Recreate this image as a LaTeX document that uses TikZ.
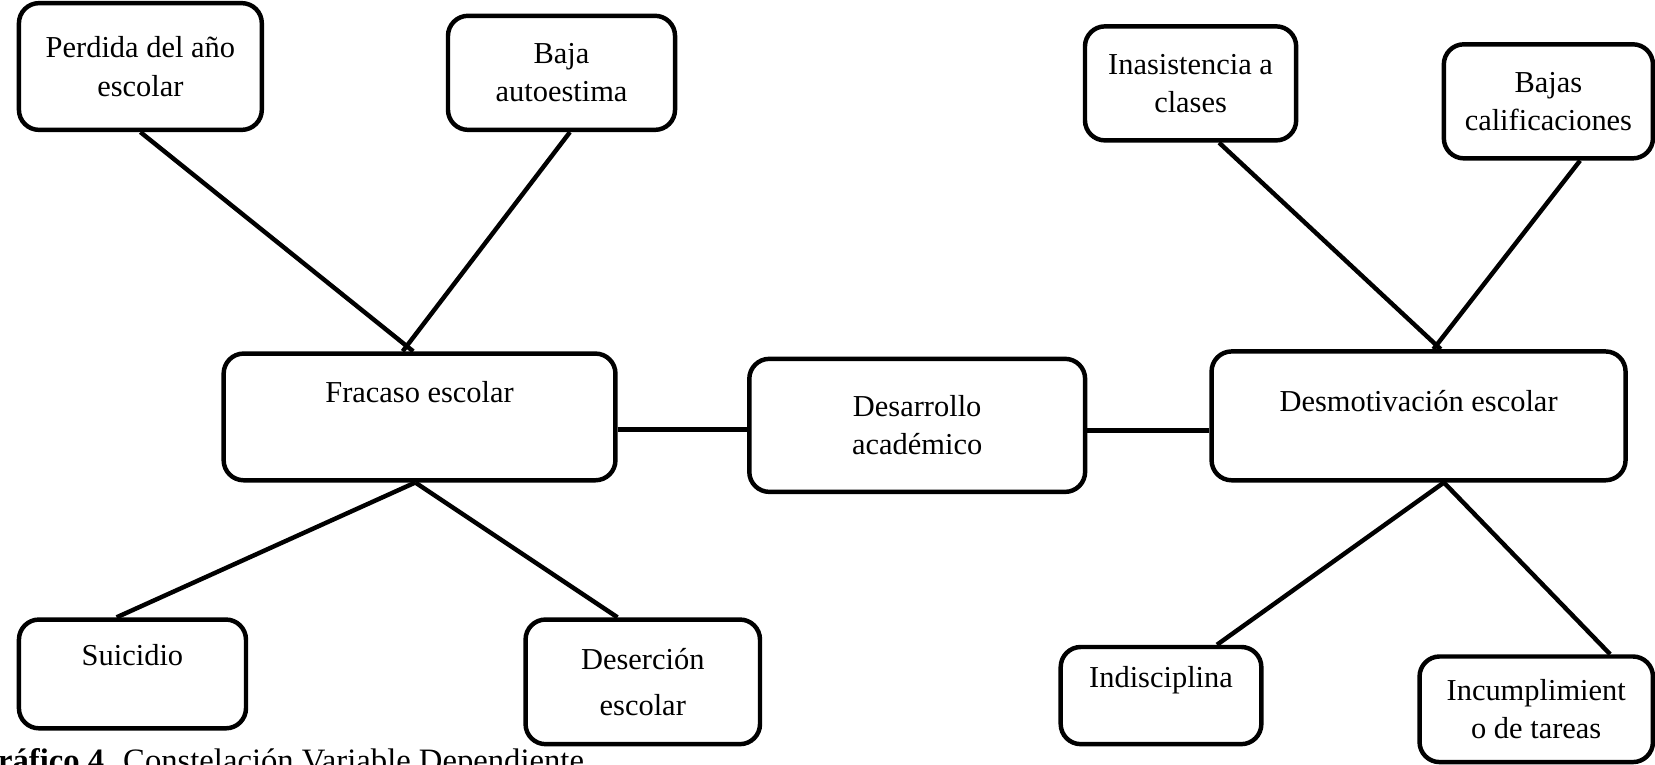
\documentclass[tikz,border=0pt]{standalone}
\usepackage{fontspec}
\setmainfont{Liberation Serif}
\usetikzlibrary{positioning,calc}

\begin{document}
\begin{tikzpicture}[x=0.01cm,y=-0.01cm,line width=1.2pt,
			box/.style={draw,rounded corners=0.19cm,align=center,inner sep=0pt,
				font=\fontsize{8.2}{10.3}\selectfont}]
			\useasboundingbox (0,0) rectangle (1568,724);
			\clip (0,0) rectangle (1568,724);
			\node[box,minimum width=3.18cm,minimum height=1.26cm] (desarrollo) at (869,403) {Desarrollo\\académico};
			\node[box,minimum width=3.71cm,minimum height=1.20cm] (fracaso) at (397.5,395) {Fracaso escolar\\[3pt]\mbox{}};
			\node[box,minimum width=3.92cm,minimum height=1.22cm] (desmot) at (1344,394) {Desmotivación escolar\\[-2pt]\mbox{}};
			\node[box,minimum width=2.30cm,minimum height=1.20cm] (perdida) at (133,63) {Perdida del año\\escolar};
			\node[box,minimum width=2.15cm,minimum height=1.08cm] (autoest) at (532,69) {Baja\\autoestima};
			\node[box,minimum width=2.15cm,minimum height=1.03cm] (suicidio) at (125.5,638.5) {Suicidio\\\mbox{}};
			\node[box,minimum width=2.22cm,minimum height=1.18cm] (desercion) at (609,646) {Deserción\\[2pt]escolar};
			\node[box,minimum width=2.00cm,minimum height=1.08cm] (inasist) at (1128,79) {Inasistencia a\\clases};
			\node[box,minimum width=1.98cm,minimum height=1.08cm] (califica) at (1467,96) {Bajas\\calificaciones};
			\node[box,minimum width=1.90cm,minimum height=0.92cm] (indisc) at (1100,659) {Indisciplina\\\mbox{}};
			\node[box,minimum width=2.21cm,minimum height=1.00cm] (tareas) at (1455.5,672) {Incumplimient\\o de tareas};
			\node[anchor=base west,inner sep=0pt,font=\fontsize{8.8}{10}\selectfont] (titulo) at (-28,731)
			{\textbf{Gráfico 4.} Constelación Variable Dependiente};
			\path[draw]
			(perdida.south) edge ($(fracaso.north)+(-6,0)$)
			($(autoest.south)+(8,0)$) edge ($(fracaso.north)+(-16,0)$)
			($(fracaso.south)+(-4,0)$) edge ($(suicidio.north)+(-15,0)$)
			($(fracaso.south)+(-4,0)$) edge ($(desercion.north)+(-24,0)$)
			($(fracaso.east)+(0,12)$) edge ($(desarrollo.west)+(0,4)$)
			($(desarrollo.east)+(0,5)$) edge ($(desmot.west)+(0,14)$)
			($(inasist.south)+(27,0)$) edge ($(desmot.north)+(21,0)$)
			($(califica.south)+(30,0)$) edge ($(desmot.north)+(14,0)$)
			($(desmot.south)+(24,0)$) edge ($(indisc.north)+(53,0)$)
			($(desmot.south)+(24,0)$) edge ($(tareas.north)+(70,0)$);
		\end{tikzpicture}
\end{document}
